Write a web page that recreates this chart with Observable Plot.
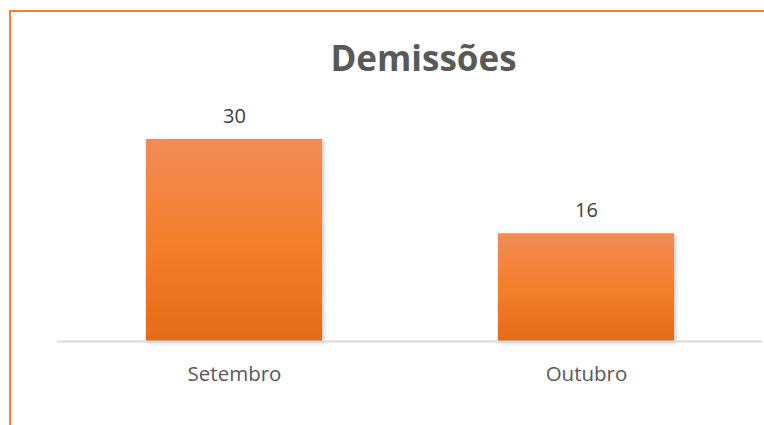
<!DOCTYPE html>
<html>
<head>
<meta charset="utf-8">
<script src="https://cdn.jsdelivr.net/npm/d3@7"></script>
<script src="https://cdn.jsdelivr.net/npm/@observablehq/plot@0.6"></script>
<style>
  body { margin: 0; background: #fff; }
  #wrap { position: relative; width: 764px; height: 425px; overflow: hidden; font-family: "Open Sans", sans-serif; }
  #frame { position: absolute; left: 9px; top: 10px; right: -5px; bottom: -5px; border-left: 2px solid #F5812E; border-top: 2px solid #F5812E; }
  #title { position: relative; height: 100px; box-sizing: border-box; padding-top: 40px; padding-left: 83px; text-align: center; font-size: 35px; line-height: 35px; font-weight: 700; color: #595959; }
  #chart { position: relative; }
</style>
</head>
<body>
<div id="wrap">
  <div id="frame"></div>
  <div id="title">Demissões</div>
  <div id="chart"></div>
</div>
<script>
const categories = ["Setembro", "Outubro"];
const values = [30, 16];

const data = categories.map((c, i) => ({ mes: c, valor: values[i] }));

const chart = Plot.plot({
  width: 764,
  height: 325,
  marginLeft: 57,
  marginRight: 2,
  marginTop: 39,
  marginBottom: 84,
  style: { fontFamily: "Open Sans, sans-serif", background: "transparent", overflow: "visible" },
  x: { domain: categories, paddingInner: 0.5, paddingOuter: 0.25, label: null },
  y: { domain: [0, 30], axis: null },
  marks: [
    Plot.barY(data, { x: "mes", y: "valor", fill: "url(#barGrad)" }),
    Plot.ruleY([0], { stroke: "#D9D9D9", strokeWidth: 2 }),
    Plot.text(data, { x: "mes", y: "valor", text: d => String(d.valor), lineAnchor: "bottom", dy: -17, fontSize: 20, fill: "#404040" }),
    Plot.axisX({ tickSize: 0, tickPadding: 25, fontSize: 20.5, color: "#595959", label: null })
  ]
});

const svg = d3.select(chart);
const defs = svg.insert("defs", ":first-child");
const g = defs.append("linearGradient").attr("id", "barGrad").attr("x1", 0).attr("y1", 0).attr("x2", 0).attr("y2", 1);
g.append("stop").attr("offset", "0%").attr("stop-color", "#F08C57");
g.append("stop").attr("offset", "50%").attr("stop-color", "#F47F2C");
g.append("stop").attr("offset", "100%").attr("stop-color", "#E46C18");
const f = defs.append("filter").attr("id", "barShadow").attr("x", "-10%").attr("y", "-10%").attr("width", "130%").attr("height", "130%");
f.append("feDropShadow").attr("dx", 1.5).attr("dy", 1.5).attr("stdDeviation", 2).attr("flood-color", "#000").attr("flood-opacity", 0.25);
svg.selectAll("g[aria-label='bar'] rect").attr("filter", "url(#barShadow)");

document.getElementById("chart").appendChild(chart);
</script>
</body>
</html>
